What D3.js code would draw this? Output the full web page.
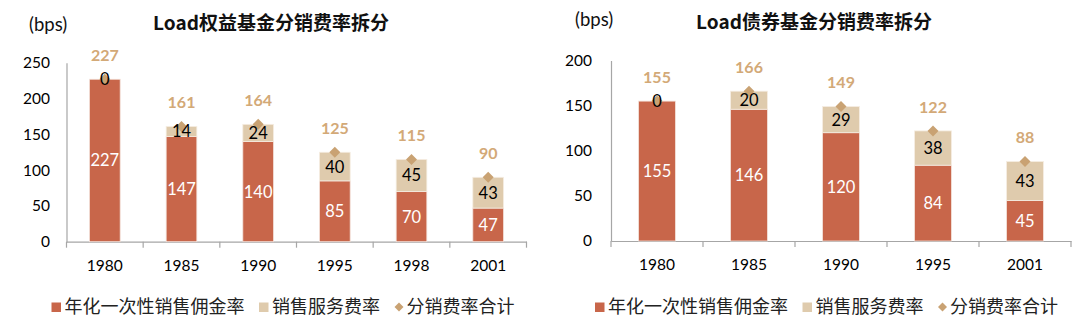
<!DOCTYPE html>
<html>
<head>
<meta charset="utf-8">
<script src="https://cdn.jsdelivr.net/npm/d3@7"></script>
<style>
  html, body { margin: 0; padding: 0; background: #fff; }
  svg { display: block; }
</style>
</head>
<body>
<svg id="chart" width="1080" height="326"></svg>
<script>
// ---- Data ----
const years1 = ["1980", "1985", "1990", "1995", "1998", "2001"];
const commission1 = [227, 147, 140, 85, 70, 47];
const service1 = [0, 14, 24, 40, 45, 43];
const total1 = [227, 161, 164, 125, 115, 90];
const yTicks1 = [0, 50, 100, 150, 200, 250];

const years2 = ["1980", "1985", "1990", "1995", "2001"];
const commission2 = [155, 146, 120, 84, 45];
const service2 = [0, 20, 29, 38, 43];
const total2 = [155, 166, 149, 122, 88];
const yTicks2 = [0, 50, 100, 150, 200];

const title1 = "Load权益基金分销费率拆分";
const title2 = "Load债券基金分销费率拆分";
const unitLabel = "(bps)";
const seriesNames = ["年化一次性销售佣金率", "销售服务费率", "分销费率合计"];

// ---- Style ----
const RED = "#C8664A", BEIGE = "#DFCBAD", DIAMOND = "#C9A273", TOTAL_TXT = "#D3A977";
const AXIS = "#A6A6A6";
const NUM_FONT = "Lato, 'Open Sans', sans-serif";
const CJK_FONT = "'Noto Sans CJK SC', 'Noto Sans', sans-serif";

const svg = d3.select("#chart");

function panel(cfg) {
  const g = svg.append("g");
  const x = d3.scaleBand().domain(cfg.years).range(cfg.xr).paddingInner(0.6).paddingOuter(0.3);
  const y = d3.scaleLinear().domain([0, cfg.yTicks[cfg.yTicks.length - 1]]).range(cfg.yr);

  // y axis
  const ya = g.append("g").attr("transform", `translate(${cfg.xr[0]},0)`)
    .call(d3.axisLeft(y).tickValues(cfg.yTicks).tickSize(0).tickPadding(cfg.yPad).tickFormat(d3.format("d")));
  ya.select(".domain").attr("stroke", AXIS).attr("stroke-width", 1.2);
  ya.selectAll("text").attr("font-family", NUM_FONT).attr("font-size", 15.5).attr("fill", "#000");

  // x axis
  const xa = g.append("g").attr("transform", `translate(0,${cfg.yr[0]})`)
    .call(d3.axisBottom(x).tickSize(0).tickSizeOuter(0).tickPadding(18));
  xa.select(".domain").attr("stroke", AXIS).attr("stroke-width", 1.2);
  xa.selectAll("text").attr("font-family", NUM_FONT).attr("font-size", 15.5).attr("fill", "#000");
  // boundary tick marks
  const step = x.step();
  const bounds = d3.range(cfg.years.length + 1).map(i => cfg.xr[0] + i * step);
  xa.selectAll("line.bt").data(bounds).join("line").attr("class", "bt")
    .attr("x1", d => d).attr("x2", d => d).attr("y1", 0).attr("y2", 6)
    .attr("stroke", AXIS).attr("stroke-width", 1.2);

  const rows = cfg.years.map((yr, i) => ({ yr, c: cfg.commission[i], s: cfg.service[i], t: cfg.total[i] }));
  const bw = x.bandwidth();

  // commission bars
  g.selectAll("rect.c").data(rows).join("rect").attr("class", "c")
    .attr("x", d => x(d.yr)).attr("width", bw)
    .attr("y", d => y(d.c)).attr("height", d => y(0) - y(d.c))
    .attr("fill", RED).attr("stroke", "#F3E2DA").attr("stroke-width", 0.8);
  // service bars
  g.selectAll("rect.s").data(rows).join("rect").attr("class", "s")
    .attr("x", d => x(d.yr)).attr("width", bw)
    .attr("y", d => y(d.c + d.s)).attr("height", d => y(d.c) - y(d.c + d.s))
    .attr("fill", BEIGE).attr("stroke", "#F5EDE2").attr("stroke-width", 0.8);

  // diamonds for totals
  g.selectAll("path.d").data(rows).join("path").attr("class", "d")
    .attr("transform", d => `translate(${x(d.yr) + bw / 2},${y(d.t)})`)
    .attr("d", "M0,-5.5L5.5,0L0,5.5L-5.5,0Z").attr("fill", DIAMOND);

  // labels
  g.selectAll("text.cl").data(rows).join("text").attr("class", "cl")
    .attr("x", d => x(d.yr) + bw / 2).attr("y", d => y(d.c / 2))
    .attr("dy", "0.36em").attr("text-anchor", "middle")
    .attr("font-family", NUM_FONT).attr("font-size", 16.5).attr("fill", "#fff")
    .text(d => d.c);
  g.selectAll("text.sl").data(rows).join("text").attr("class", "sl")
    .attr("x", d => x(d.yr) + bw / 2).attr("y", d => y(d.c + d.s / 2))
    .attr("dy", "0.36em").attr("text-anchor", "middle")
    .attr("font-family", NUM_FONT).attr("font-size", 16.5).attr("fill", "#000")
    .text(d => d.s);
  g.selectAll("text.tl").data(rows).join("text").attr("class", "tl")
    .attr("x", d => x(d.yr) + bw / 2).attr("y", d => y(d.t) - 24)
    .attr("dy", "0.36em").attr("text-anchor", "middle")
    .attr("font-family", NUM_FONT).attr("font-size", 16).attr("font-weight", "bold").attr("fill", TOTAL_TXT)
    .text(d => d.t);

  // title
  g.append("text").attr("x", cfg.titleX).attr("y", cfg.titleY).attr("dy", "0.36em")
    .attr("text-anchor", "middle").attr("font-family", CJK_FONT).attr("font-weight", "bold")
    .attr("font-size", 19).attr("fill", "#111").text(cfg.title);
  // unit
  g.append("text").attr("x", cfg.unitX).attr("y", cfg.unitY).attr("dy", "0.36em")
    .attr("font-family", NUM_FONT).attr("font-size", 18.5).attr("fill", "#111").text(unitLabel);

  // legend
  const lg = g.append("g").attr("transform", `translate(${cfg.legX},${cfg.legY})`);
  let cx = 0;
  seriesNames.forEach((name, i) => {
    if (i < 2) {
      lg.append("rect").attr("x", cx).attr("y", -4.5).attr("width", 9.5).attr("height", 9.5)
        .attr("fill", i === 0 ? RED : BEIGE);
      cx += 13;
    } else {
      lg.append("path").attr("d", "M0,-4.5L4.5,0L0,4.5L-4.5,0Z")
        .attr("transform", `translate(${cx + 4.5},0)`).attr("fill", DIAMOND);
      cx += 12;
    }
    const t = lg.append("text").attr("x", cx).attr("y", 0).attr("dy", "0.36em")
      .attr("font-family", CJK_FONT).attr("font-size", 18).attr("fill", "#222").text(name);
    cx += t.node().getComputedTextLength() + 14.5;
  });
}

panel({
  years: years1, commission: commission1, service: service1, total: total1, yTicks: yTicks1,
  xr: [66.5, 526.5], yr: [241.7, 62.8], yPad: 16.5,
  title: title1, titleX: 271, titleY: 23, unitX: 29, unitY: 24,
  legX: 51.5, legY: 307
});
panel({
  years: years2, commission: commission2, service: service2, total: total2, yTicks: yTicks2,
  xr: [611, 1071], yr: [241, 60.5], yPad: 19,
  title: title2, titleX: 814, titleY: 22, unitX: 575, unitY: 19,
  legX: 595, legY: 307
});
</script>
</body>
</html>
